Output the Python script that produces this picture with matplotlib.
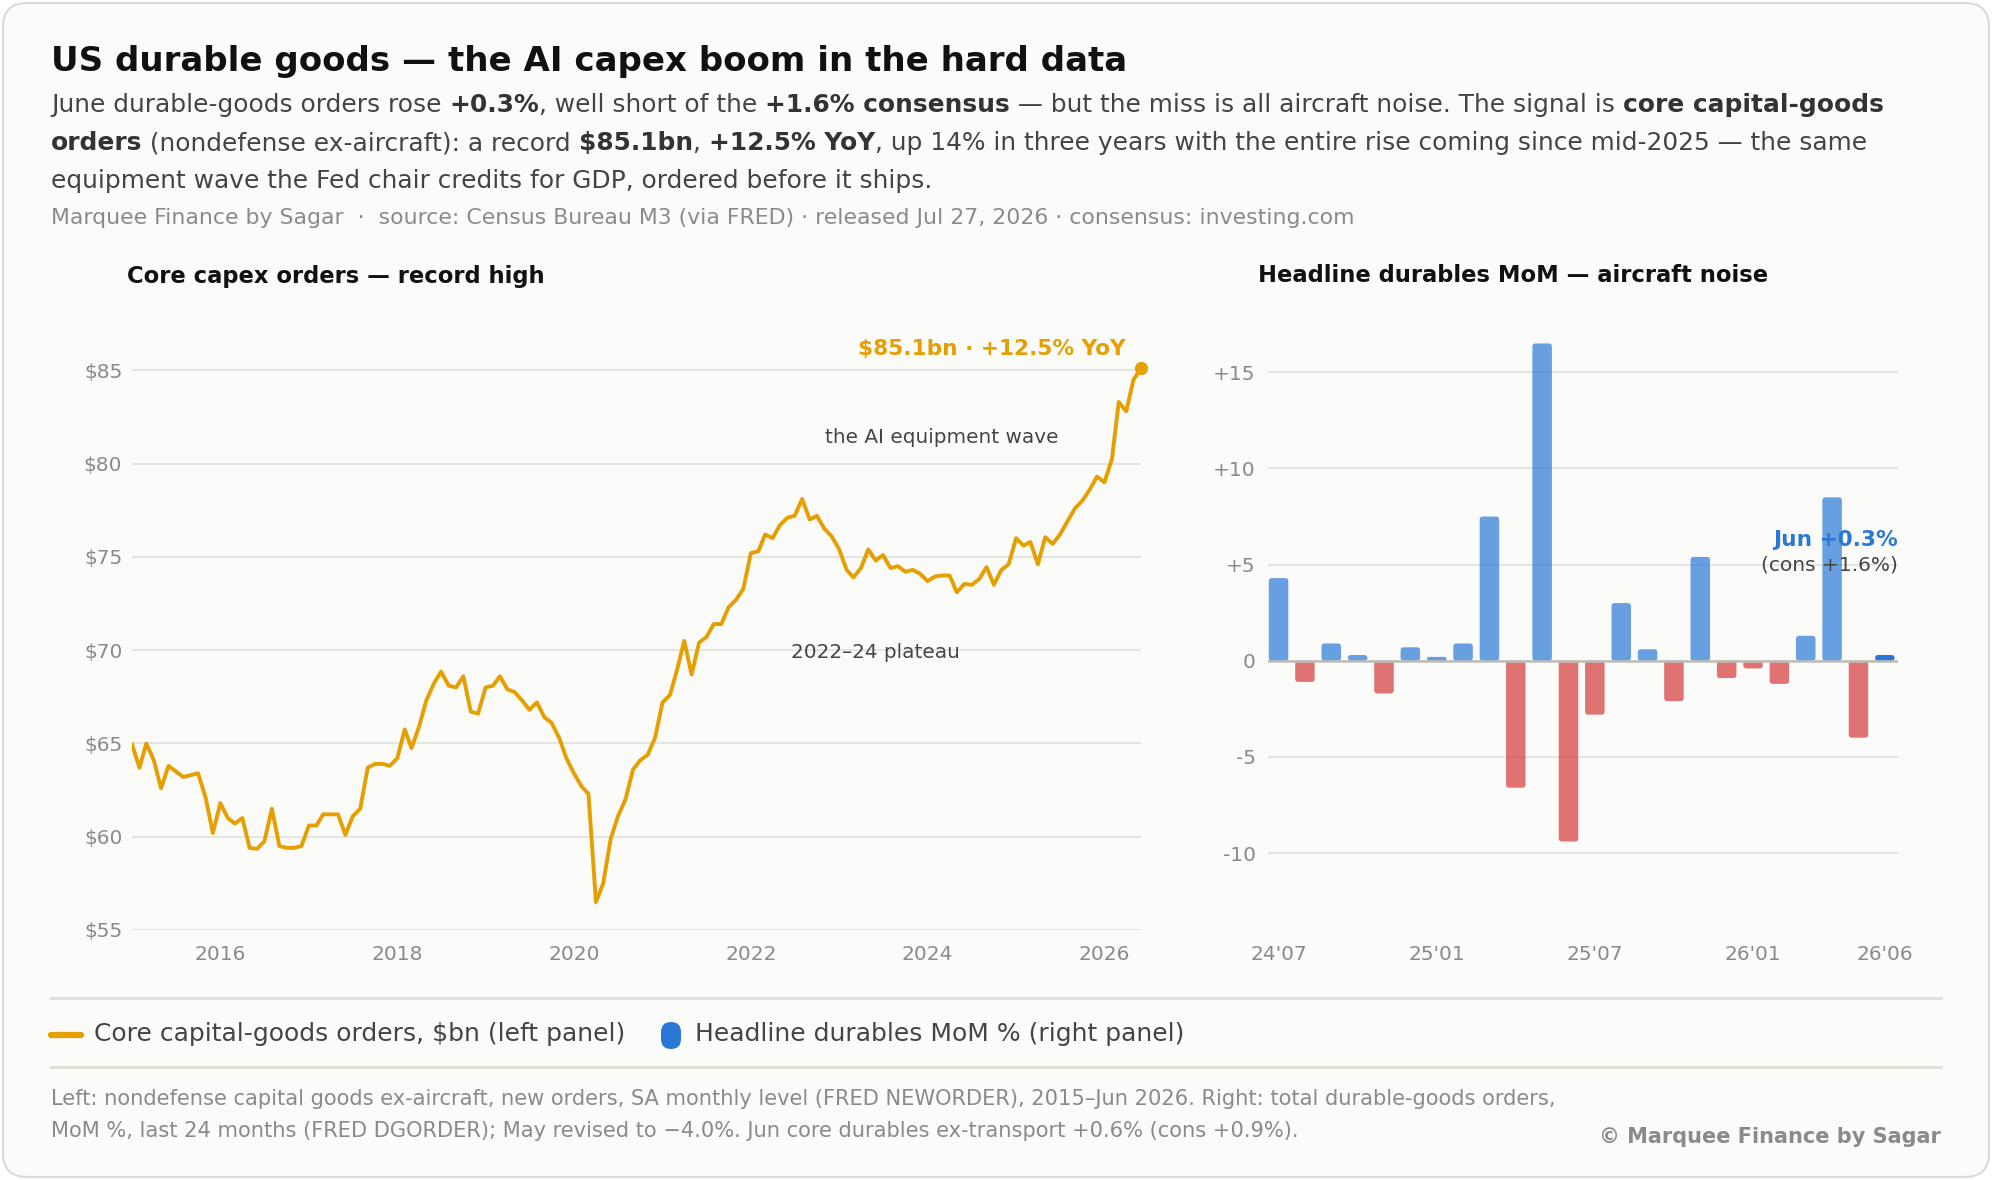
import pandas as pd
import matplotlib
matplotlib.use('Agg')
import matplotlib.pyplot as plt
from matplotlib.patches import FancyBboxPatch
from matplotlib.lines import Line2D

plt.rcParams['text.parse_math'] = False
plt.rcParams['font.family'] = 'DejaVu Sans'

# ---- data ----
# core capital goods orders (nondefense ex-aircraft), $bn, monthly Jan 2015 - Jun 2026
core_orders = [
    64.95, 63.7, 65.0, 64.1, 62.6, 63.8, 63.5, 63.2, 63.3, 63.4, 62.1, 60.2,     # 2015
    61.8, 61.0, 60.7, 61.0, 59.4, 59.35, 59.75, 61.5, 59.5, 59.4, 59.4, 59.5,    # 2016
    60.6, 60.6, 61.2, 61.2, 61.2, 60.1, 61.1, 61.5, 63.7, 63.9, 63.9, 63.8,      # 2017
    64.2, 65.75, 64.75, 65.9, 67.3, 68.2, 68.85, 68.1, 68.0, 68.6, 66.7, 66.6,   # 2018
    68.0, 68.1, 68.6, 67.9, 67.75, 67.3, 66.8, 67.2, 66.4, 66.1, 65.3, 64.2,     # 2019
    63.4, 62.7, 62.3, 56.5, 57.5, 59.9, 61.1, 62.0, 63.6, 64.1, 64.4, 65.3,      # 2020
    67.2, 67.6, 68.9, 70.5, 68.7, 70.4, 70.7, 71.4, 71.4, 72.3, 72.7, 73.3,      # 2021
    75.2, 75.3, 76.2, 76.0, 76.7, 77.1, 77.2, 78.1, 77.0, 77.2, 76.5, 76.1,      # 2022
    75.4, 74.3, 73.9, 74.4, 75.4, 74.8, 75.1, 74.4, 74.5, 74.2, 74.3, 74.1,      # 2023
    73.7, 73.95, 74.0, 74.0, 73.1, 73.55, 73.5, 73.8, 74.45, 73.5, 74.3, 74.6,   # 2024
    76.0, 75.6, 75.8, 74.6, 76.05, 75.7, 76.2, 76.9, 77.6, 78.0, 78.6, 79.3,     # 2025
    79.0, 80.25, 83.3, 82.8, 84.5, 85.1,                                         # 2026
]
core_start = '2015-01-01'
left_ticks = [2016, 2018, 2020, 2022, 2024, 2026]
left_yticks = [55, 60, 65, 70, 75, 80, 85]

# headline durable goods MoM %, last 24 months
mom_months = ["24'07", "24'08", "24'09", "24'10", "24'11", "24'12",
              "25'01", "25'02", "25'03", "25'04", "25'05", "25'06",
              "25'07", "25'08", "25'09", "25'10", "25'11", "25'12",
              "26'01", "26'02", "26'03", "26'04", "26'05", "26'06"]
mom_pct = [4.3, -1.1, 0.9, 0.3, -1.7, 0.7,
           0.2, 0.9, 7.5, -6.6, 16.5, -9.4,
           -2.8, 3.0, 0.6, -2.1, 5.4, -0.9,
           -0.4, -1.2, 1.3, 8.5, -4.0, 0.3]
right_tick_months = ["24'07", "25'01", "25'07", "26'01", "26'06"]
right_yticks = [-10, -5, 0, 5, 10, 15]
right_ylabels = ['-10', '-5', '0', '+5', '+10', '+15']

# ---- colours ----
ORANGE = '#E69F00'
BLUE = '#2A78D6'
RED = '#D64545'
GRID = '#E2E2DE'
TICK = '#8A8A8A'
BG = '#FBFBF9'

W, H = 1992, 1180
fig = plt.figure(figsize=(W / 100, H / 100), dpi=100)
fig.patch.set_facecolor('white')


def fx(px):
    return px / W


def fy(py):
    return 1 - py / H


# rounded card background
card = FancyBboxPatch((fx(3), fy(1177)), fx(1986), (1174) / H,
                      boxstyle='round,pad=0,rounding_size=0.012',
                      transform=fig.transFigure, facecolor=BG,
                      edgecolor='#DADAD6', linewidth=1.5, zorder=-10,
                      mutation_aspect=W / H)
fig.patches.append(card)

renderer = fig.canvas.get_renderer()


def text_width(s, size, bold):
    # measure with bars around so that spaces count
    t1 = fig.text(0, 0, '|' + s + '|', fontsize=size, fontweight='bold' if bold else 'normal')
    t2 = fig.text(0, 0, '||', fontsize=size, fontweight='bold' if bold else 'normal')
    w = t1.get_window_extent(renderer).width - t2.get_window_extent(renderer).width
    t1.remove()
    t2.remove()
    return w


def rich_line(x, y, parts, size, color, bold_color):
    cur = x
    for s, bold in parts:
        fig.text(fx(cur), fy(y), s, fontsize=size, va='center', ha='left',
                 fontweight='bold' if bold else 'normal',
                 color=bold_color if bold else color)
        cur += text_width(s, size, bold)


# ---- header ----
fig.text(fx(51), fy(62), 'US durable goods \u2014 the AI capex boom in the hard data',
         fontsize=24.5, fontweight='bold', color='#111111', va='center')

sub_size = 17.9
rich_line(51, 105, [('June durable-goods orders rose ', False), ('+0.3%', True),
                    (', well short of the ', False), ('+1.6% consensus', True),
                    (' \u2014 but the miss is all aircraft noise. The signal is ', False),
                    ('core capital-goods', True)], sub_size, '#444444', '#333333')
rich_line(51, 143, [('orders', True), (' (nondefense ex-aircraft): a record ', False),
                    ('$85.1bn', True), (', ', False), ('+12.5% YoY', True),
                    (', up 14% in three years with the entire rise coming since mid-2025 \u2014 the same', False)],
          sub_size, '#444444', '#333333')
rich_line(51, 181, [('equipment wave the Fed chair credits for GDP, ordered before it ships.', False)],
          sub_size, '#444444', '#333333')
fig.text(fx(51), fy(218), 'Marquee Finance by Sagar  \u00b7  source: Census Bureau M3 (via FRED) \u00b7 '
         'released Jul 27, 2026 \u00b7 consensus: investing.com',
         fontsize=15.8, color='#8A8A8A', va='center')

fig.text(fx(127), fy(276), 'Core capex orders \u2014 record high', fontsize=16.3,
         fontweight='bold', color='#111111', va='center')
fig.text(fx(1258), fy(276), 'Headline durables MoM \u2014 aircraft noise', fontsize=16.3,
         fontweight='bold', color='#111111', va='center')

# ---- left panel: core capex line ----
dates = pd.date_range(core_start, periods=len(core_orders), freq='MS')
ax1 = fig.add_axes([fx(132), fy(930), (1141 - 132) / W, (930 - 305) / H])
ax1.set_facecolor('none')
ax1.plot(dates, core_orders, color=ORANGE, lw=2.8, solid_joinstyle='round', zorder=3)
ax1.plot(dates[-1], core_orders[-1], 'o', color=ORANGE, ms=8.5, zorder=4, clip_on=False)
ax1.set_xlim(dates[0], dates[-1])
ax1.set_ylim(55, 88.5)
ax1.set_yticks(left_yticks)
ax1.set_yticklabels(['$%d' % v for v in left_yticks])
ax1.set_xticks([pd.Timestamp('%d-01-01' % y) for y in left_ticks])
ax1.set_xticklabels([str(y) for y in left_ticks])
ax1.grid(axis='y', color=GRID, lw=1.3)
ax1.set_axisbelow(True)
for sp in ax1.spines.values():
    sp.set_visible(False)
ax1.tick_params(length=0, labelsize=14.5, labelcolor=TICK, pad=7)
ax1.tick_params(axis='x', pad=11)

ax1.annotate('$85.1bn \u00b7 +12.5% YoY', (dates[-1], core_orders[-1]),
             xytext=(-11, 14), textcoords='offset points', ha='right', va='center',
             fontsize=15.6, fontweight='bold', color=ORANGE)
ax1.text(pd.Timestamp('2024-03-01'), 81.4, 'the AI equipment wave', ha='center', va='center',
         fontsize=14.4, color='#444444')
ax1.text(pd.Timestamp('2023-06-01'), 69.9, '2022\u201324 plateau', ha='center', va='center',
         fontsize=14.4, color='#444444')

# ---- right panel: MoM bars ----
ax2 = fig.add_axes([fx(1268), fy(930), (1898 - 1268) / W, (930 - 305) / H])
ax2.set_facecolor('none')
ax2.set_xlim(-0.4, 23.5)
ax2.set_ylim(-14, 18.5)

bar_w = 0.74
px_x = (1898 - 1268) / 23.9
px_y = (930 - 305) / 32.5
aspect = px_x / px_y
for i, v in enumerate(mom_pct):
    if i == len(mom_pct) - 1:
        fc, alpha = BLUE, 1.0
    elif v >= 0:
        fc, alpha = BLUE, 0.7
    else:
        fc, alpha = RED, 0.75
    h = abs(v)
    y0 = 0 if v >= 0 else v
    r = min(0.12, h / aspect / 2)
    ax2.add_patch(FancyBboxPatch((i - bar_w / 2, y0), bar_w, h,
                                 boxstyle='round,pad=0,rounding_size=%f' % r,
                                 mutation_aspect=aspect, facecolor=fc, alpha=alpha,
                                 edgecolor='none', zorder=3))
ax2.axhline(0, color='#BDBDB8', lw=1.8, zorder=4)

ax2.set_yticks(right_yticks)
ax2.set_yticklabels(right_ylabels)
ax2.set_xticks([mom_months.index(m) for m in right_tick_months])
ax2.set_xticklabels(right_tick_months)
ax2.grid(axis='y', color=GRID, lw=1.3)
ax2.set_axisbelow(True)
for sp in ax2.spines.values():
    sp.set_visible(False)
ax2.tick_params(length=0, labelsize=14.5, labelcolor=TICK, pad=9)
ax2.tick_params(axis='x', pad=11)

ax2.text(23.5, 6.3, 'Jun +0.3%', ha='right', va='center', fontsize=15.6,
         fontweight='bold', color=BLUE, zorder=5)
ax2.text(23.5, 5.0, '(cons +1.6%)', ha='right', va='center', fontsize=14.5,
         color='#444444', zorder=5)

# ---- legend strip and footnotes ----
fig.add_artist(Line2D([fx(51), fx(1941)], [fy(998), fy(998)], color='#DDDDD6', lw=2))
fig.add_artist(Line2D([fx(51), fx(1941)], [fy(1067), fy(1067)], color='#DDDDD6', lw=2))

fig.add_artist(Line2D([fx(51), fx(81)], [fy(1035), fy(1035)], color=ORANGE, lw=4.5,
                      solid_capstyle='round'))
fig.text(fx(94), fy(1034), 'Core capital-goods orders, $bn (left panel)', fontsize=18,
         color='#444444', va='center')
leg_box = FancyBboxPatch((fx(661), fy(1049)), 20 / W, 27 / H,
                         boxstyle='round,pad=0,rounding_size=0.005',
                         transform=fig.transFigure, facecolor=BLUE, edgecolor='none',
                         mutation_aspect=W / H)
fig.patches.append(leg_box)
fig.text(fx(695), fy(1034), 'Headline durables MoM % (right panel)', fontsize=18,
         color='#444444', va='center')

fig.text(fx(51), fy(1099), 'Left: nondefense capital goods ex-aircraft, new orders, SA monthly level '
         '(FRED NEWORDER), 2015\u2013Jun 2026. Right: total durable-goods orders,',
         fontsize=15.1, color='#8A8A8A', va='center')
fig.text(fx(51), fy(1131), 'MoM %, last 24 months (FRED DGORDER); May revised to \u22124.0%. '
         'Jun core durables ex-transport +0.6% (cons +0.9%).',
         fontsize=15.1, color='#8A8A8A', va='center')
fig.text(fx(1941), fy(1137), '\u00a9 Marquee Finance by Sagar', fontsize=15,
         fontweight='bold', color='#8A8A8A', va='center', ha='right')

fig.savefig('out.png', dpi=100, facecolor=fig.get_facecolor())
